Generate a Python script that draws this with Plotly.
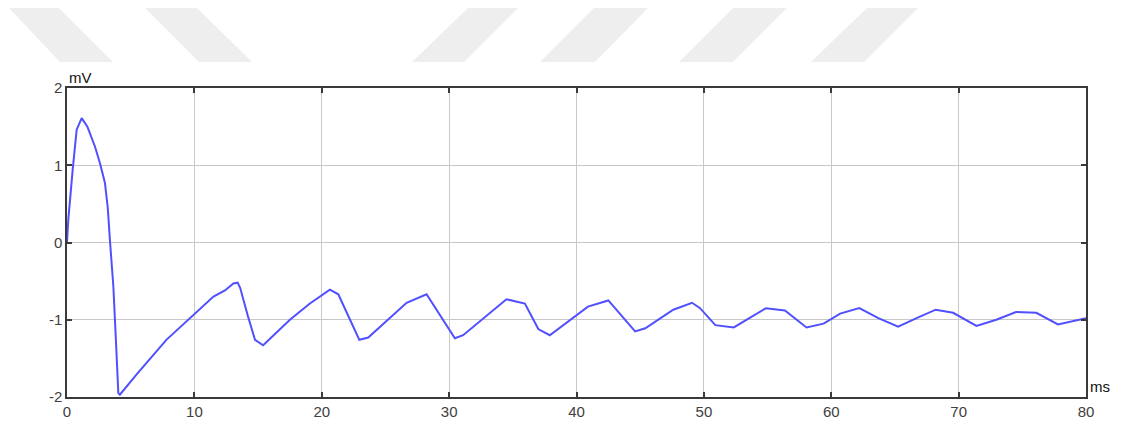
import plotly.graph_objects as go

# time (ms) and potential (mV)
t_ms = [0, 0.1, 0.45, 0.76, 1.15, 1.6, 2.2, 2.6, 2.98, 3.2, 3.37, 3.64, 3.85, 4.03, 4.15,
        5.5, 7.8, 9.9, 11.5, 12.4, 13.06, 13.4, 13.6, 14.2, 14.76, 15.4, 17.5, 19.07,
        20.64, 21.3, 22.95, 23.65, 26.66, 28.23, 30.45, 31.1, 34.5, 35.95, 37.0, 37.9,
        40.9, 42.5, 44.6, 45.4, 47.6, 49.07, 49.7, 50.9, 52.35, 54.87, 56.36, 58.06,
        59.4, 60.7, 62.2, 63.7, 65.25, 66.7, 68.2, 69.57, 71.4, 72.96, 74.5, 76.1,
        77.8, 80]
v_mv = [0, 0.29, 0.95, 1.46, 1.61, 1.5, 1.24, 1.02, 0.77, 0.45, 0.03, -0.57, -1.3, -1.95, -1.97,
        -1.70, -1.26, -0.94, -0.70, -0.62, -0.53, -0.52, -0.59, -0.95, -1.26, -1.33, -1.0, -0.79,
        -0.61, -0.67, -1.26, -1.23, -0.78, -0.67, -1.24, -1.20, -0.735, -0.79, -1.12, -1.20,
        -0.83, -0.75, -1.15, -1.11, -0.87, -0.78, -0.85, -1.07, -1.10, -0.85, -0.88, -1.10,
        -1.05, -0.92, -0.85, -0.98, -1.09, -0.98, -0.87, -0.91, -1.08, -1.0, -0.90, -0.91,
        -1.06, -0.98]

x_ticks = [0, 10, 20, 30, 40, 50, 60, 70, 80]
y_ticks = [-2, -1, 0, 1, 2]

OFF = 8  # page body margin
W, H = 1131 - OFF, 435 - OFF
ML, MR, MT, MB = 67 - OFF, 45, 88 - OFF, 38
PW, PH = W - ML - MR, H - MT - MB


def px(x, y):
    """window pixel -> paper coords"""
    x -= OFF
    y -= OFF
    return (x - ML) / PW, (H - MB - y) / PH


def poly(points):
    pts = [px(x, y) for x, y in points]
    return "M " + " L ".join(f"{a:.5f},{b:.5f}" for a, b in pts) + " Z"


# decorative watermark parallelograms (window pixel outlines)
wm = [
    [(7, 6), (57, 6), (113, 62), (60, 62)],
    [(143, 6), (195, 6), (252, 62), (199, 62)],
    [(470, 6), (520, 6), (464, 62), (412, 62)],
    [(596, 6), (650, 6), (595, 62), (540, 62)],
    [(735, 6), (789, 6), (733, 62), (679, 62)],
    [(869, 6), (920, 6), (864, 62), (811, 62)],
]

fig = go.Figure()
fig.add_trace(go.Scatter(x=t_ms, y=v_mv, mode="lines",
                         line=dict(color="#5050ff", width=2), hoverinfo="skip"))

shapes = [dict(type="path", xref="paper", yref="paper", path=poly(p),
               fillcolor="#eeeeee", line=dict(width=0), layer="below") for p in wm]

axis_common = dict(showline=True, linecolor="#3a3a3a", linewidth=1.5, mirror="ticks",
                   ticks="inside", ticklen=5, tickcolor="#3a3a3a", tickwidth=1.5,
                   showgrid=True, gridcolor="#c8c8c8", gridwidth=1, zeroline=False,
                   tickfont=dict(family="Liberation Sans, Arial", size=15, color="#404040"))

fig.update_layout(
    width=W, height=H, margin=dict(l=ML, r=MR, t=MT, b=MB),
    paper_bgcolor="white", plot_bgcolor="white", showlegend=False,
    shapes=shapes,
    xaxis=dict(range=[0, 80], tickvals=x_ticks, ticktext=[str(v) for v in x_ticks], **axis_common),
    yaxis=dict(range=[-2, 2], tickvals=y_ticks, ticktext=[str(v) for v in y_ticks], **axis_common),
    annotations=[
        dict(text="mV", xref="paper", yref="paper", x=0, y=1, xanchor="left", yanchor="bottom",
             showarrow=False, font=dict(family="Liberation Sans, Arial", size=15, color="#111111")),
        dict(text="ms", xref="paper", yref="paper", x=1, y=0, xanchor="left", yanchor="bottom",
             xshift=2, showarrow=False, font=dict(family="Liberation Sans, Arial", size=15, color="#111111")),
    ],
)

fig.write_html("out.html")
